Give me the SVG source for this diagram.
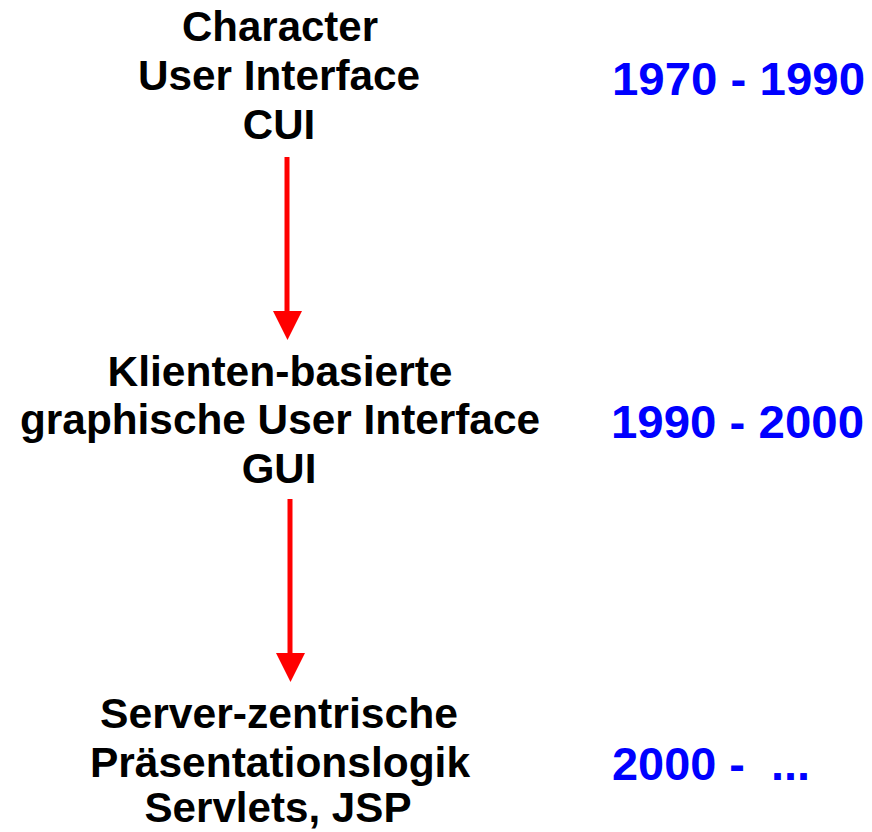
<svg xmlns="http://www.w3.org/2000/svg" width="872" height="832" viewBox="0 0 872 832">
  <style>
    .lbl { font-family: "Liberation Sans", Arial, sans-serif; font-weight: bold; font-size: 42px; fill: #000; text-anchor: middle; }
    .yr { font-family: "Liberation Sans", Arial, sans-serif; font-weight: bold; font-size: 46px; fill: #0000ff; }
    .conn { stroke: #ff0000; stroke-width: 5; fill: none; }
    .head { fill: #ff0000; }
  </style>
  <rect width="872" height="832" fill="#fff"/>

  <g id="cui">
    <text class="lbl" x="280" y="41" textLength="196" lengthAdjust="spacingAndGlyphs">Character</text>
    <text class="lbl" x="279" y="90" textLength="282" lengthAdjust="spacingAndGlyphs">User Interface</text>
    <text class="lbl" x="279" y="139">CUI</text>
  </g>
  <g id="gui">
    <text class="lbl" x="280" y="386" textLength="345" lengthAdjust="spacingAndGlyphs">Klienten-basierte</text>
    <text class="lbl" x="280" y="434" textLength="520" lengthAdjust="spacingAndGlyphs">graphische User Interface</text>
    <text class="lbl" x="279" y="483">GUI</text>
  </g>
  <g id="server">
    <text class="lbl" x="279" y="728" textLength="358" lengthAdjust="spacingAndGlyphs">Server-zentrische</text>
    <text class="lbl" x="280" y="777" textLength="380" lengthAdjust="spacingAndGlyphs">Präsentationslogik</text>
    <text class="lbl" x="278" y="822" textLength="267" lengthAdjust="spacingAndGlyphs">Servlets, JSP</text>
  </g>

  <g id="years">
    <text class="yr" x="612" y="95" textLength="253" lengthAdjust="spacingAndGlyphs">1970 - 1990</text>
    <text class="yr" x="611" y="438" textLength="253" lengthAdjust="spacingAndGlyphs">1990 - 2000</text>
    <text class="yr" x="612" y="780" xml:space="preserve" textLength="198" lengthAdjust="spacingAndGlyphs">2000 -  ...</text>
  </g>

  <g id="connectors">
    <line class="conn" x1="287" y1="157" x2="287" y2="312"/>
    <polygon class="head" points="273,311 302,311 287.5,340"/>
    <line class="conn" x1="290" y1="499" x2="290" y2="654"/>
    <polygon class="head" points="276,653 305,653 290.5,682"/>
  </g>
</svg>
